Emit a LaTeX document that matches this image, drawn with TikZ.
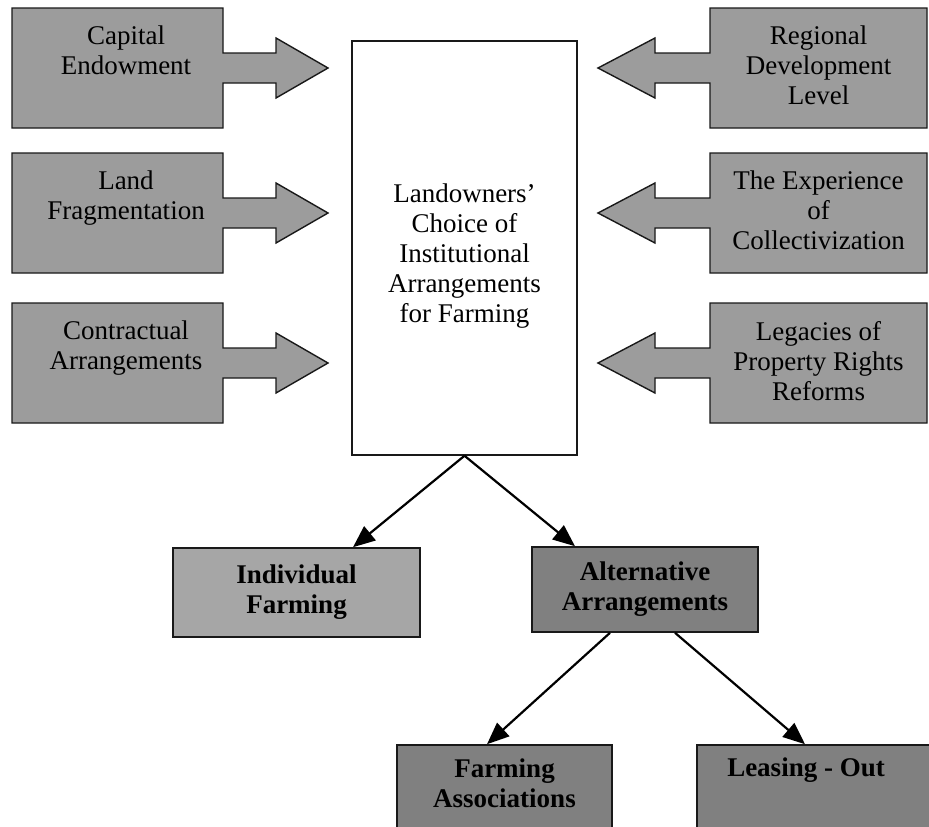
\documentclass[tikz,border=0pt]{standalone}
\usepackage{fontspec}
\setmainfont{Liberation Serif}
\usetikzlibrary{arrows.meta,calc}
\definecolor{sidefill}{RGB}{156,156,156}
\definecolor{lightfill}{RGB}{166,166,166}
\definecolor{darkfill}{RGB}{128,128,128}
\definecolor{edge}{RGB}{25,25,25}
\newcommand{\leftcallout}[3]{%
  \path[callout] (12,#1) -- (223,#1) -- (223,#1+45) -- (276,#1+45) -- (276,#1+30)
    -- (328,#1+60) -- (276,#1+90) -- (276,#1+75) -- (223,#1+75) -- (223,#1+120)
    -- (12,#1+120) -- cycle;
  \node[ctext] (#2) at (126,#1+18) {#3};}
\newcommand{\rightcallout}[3]{%
  \path[callout] (927,#1) -- (710,#1) -- (710,#1+45) -- (655,#1+45) -- (655,#1+30)
    -- (598,#1+60) -- (655,#1+90) -- (655,#1+75) -- (710,#1+75) -- (710,#1+120)
    -- (927,#1+120) -- cycle;
  \node[ctext] (#2) at (818.5,#1+18) {#3};}
\begin{document}
\begin{tikzpicture}[x=1pt,y=-1pt,
  callout/.style={fill=sidefill, draw=edge, line width=1.4pt, line join=miter},
  ctext/.style={anchor=north, align=center, inner sep=0pt, font=\fontsize{27}{30}\selectfont},
  outbox/.style={rectangle, draw=edge, line width=1.6pt, inner sep=0pt, align=center,
    font=\fontsize{27}{30}\selectfont\bfseries},
  btext/.style={anchor=north, align=center, inner sep=0pt, font=\fontsize{27}{30}\selectfont\bfseries},
  conn/.style={line width=2.2pt, draw=black, -{Triangle[length=22pt,width=18pt]}}]
\useasboundingbox (0,0) rectangle (929,827);
\clip (0,0) rectangle (929,827);
\fill[white] (0,0) rectangle (929,827);

% central box
\node[rectangle, draw=edge, line width=1.5pt, fill=white, minimum width=225pt, minimum height=414pt, inner sep=0pt] (C) at (464.5,248) {};
\node[ctext] (Ct) at (464.5,184) {Landowners’\\Choice of\\Institutional\\Arrangements\\for Farming};

% side callouts
\leftcallout{8}{capital}{Capital\\Endowment}
\leftcallout{153}{land}{Land\\Fragmentation}
\leftcallout{303}{contract}{Contractual\\Arrangements}
\rightcallout{8}{regional}{Regional\\Development\\Level}
\rightcallout{153}{collect}{The Experience\\of\\Collectivization}
\rightcallout{303}{legacy}{Legacies of\\Property Rights\\Reforms}

% outcome boxes
\node[outbox, fill=lightfill, minimum width=247pt, minimum height=89pt] (IF) at (296.5,592.5) {Individual\\Farming};
\node[outbox, fill=darkfill, minimum width=226pt, minimum height=85pt] (AA) at (645,589.5) {Alternative\\Arrangements};
\node[outbox, fill=darkfill, minimum width=215pt, minimum height=100pt] (FA) at (504.5,795) {};
\node[btext] (FAt) at (504.5,759) {Farming\\Associations};
\node[outbox, fill=darkfill, minimum width=243pt, minimum height=100pt] (LO) at (818.5,795) {};
\node[btext] (LOt) at (806,758) {Leasing - Out};

% connectors
\draw[conn] (C.south) -- ([xshift=56.5pt]IF.north);
\draw[conn] (C.south) -- ([xshift=-70pt]AA.north);
\draw[conn] ([xshift=-35pt]AA.south) -- ([xshift=-17.5pt]FA.north);
\draw[conn] ([xshift=30pt]AA.south) -- ([xshift=-13.5pt]LO.north);
\end{tikzpicture}
\end{document}
